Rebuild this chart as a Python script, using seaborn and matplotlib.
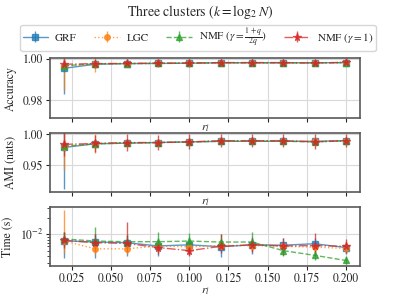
import matplotlib
matplotlib.use("Agg")
import matplotlib.pyplot as plt
import seaborn as sns
import numpy as np

# ratio of labelled points
r_l = [0.02, 0.04, 0.06, 0.08, 0.10, 0.12, 0.14, 0.16, 0.18, 0.20]

methods = ["GRF", "LGC", r"NMF ($\gamma=\frac{1+q}{2q}$)", r"NMF ($\gamma=1$)"]

# accuracy (mean, std)
acc_grf = [0.9955, 0.9975, 0.9978, 0.9979, 0.9980, 0.9982, 0.9982, 0.9982, 0.9982, 0.9983]
acc_lgc = [0.9965, 0.9976, 0.9978, 0.9979, 0.9980, 0.9982, 0.9982, 0.9982, 0.9982, 0.9983]
acc_nmf = [0.9968, 0.9977, 0.9978, 0.9979, 0.9980, 0.9982, 0.9982, 0.9982, 0.9982, 0.9983]
acc_nmf1 = [0.9975, 0.9978, 0.9979, 0.9980, 0.9981, 0.9983, 0.9983, 0.9983, 0.9981, 0.9984]
acc_grf_sd = [0.0125, 0.0010, 0.0008, 0.0008, 0.0007, 0.0007, 0.0006, 0.0006, 0.0006, 0.0006]
acc_lgc_sd = [0.0115, 0.0040, 0.0010, 0.0008, 0.0007, 0.0007, 0.0006, 0.0006, 0.0006, 0.0006]
acc_nmf_sd = [0.0020, 0.0012, 0.0010, 0.0009, 0.0008, 0.0008, 0.0007, 0.0007, 0.0007, 0.0007]
acc_nmf1_sd = [0.0025, 0.0022, 0.0020, 0.0019, 0.0018, 0.0017, 0.0017, 0.0016, 0.0017, 0.0016]

# AMI (nats)
ami_grf = [0.979, 0.985, 0.986, 0.987, 0.988, 0.989, 0.989, 0.989, 0.989, 0.990]
ami_lgc = [0.980, 0.985, 0.986, 0.987, 0.988, 0.989, 0.989, 0.989, 0.989, 0.990]
ami_nmf = [0.981, 0.985, 0.986, 0.987, 0.988, 0.989, 0.989, 0.989, 0.988, 0.990]
ami_nmf1 = [0.984, 0.9855, 0.987, 0.987, 0.988, 0.990, 0.990, 0.990, 0.988, 0.990]
ami_grf_sd = [0.067, 0.006, 0.004, 0.004, 0.003, 0.003, 0.003, 0.003, 0.003, 0.003]
ami_lgc_sd = [0.038, 0.015, 0.005, 0.004, 0.003, 0.003, 0.003, 0.003, 0.003, 0.003]
ami_nmf_sd = [0.008, 0.005, 0.004, 0.004, 0.004, 0.003, 0.003, 0.003, 0.003, 0.003]
ami_nmf1_sd = [0.018, 0.014, 0.013, 0.012, 0.012, 0.011, 0.011, 0.011, 0.012, 0.010]

# time (s): mean, lower and upper ends of the bars
t_grf = [7.6e-3, 7.2e-3, 7.0e-3, 6.1e-3, 6.4e-3, 5.9e-3, 6.4e-3, 6.3e-3, 6.7e-3, 5.7e-3]
t_lgc = [7.5e-3, 5.4e-3, 5.4e-3, 6.1e-3, 5.9e-3, 6.2e-3, 6.2e-3, 6.0e-3, 5.8e-3, 5.5e-3]
t_nmf = [8.2e-3, 7.5e-3, 7.3e-3, 7.3e-3, 7.5e-3, 7.2e-3, 7.2e-3, 5.0e-3, 4.1e-3, 3.3e-3]
t_nmf1 = [7.7e-3, 7.0e-3, 6.8e-3, 5.7e-3, 5.0e-3, 6.0e-3, 6.4e-3, 6.1e-3, 6.2e-3, 6.0e-3]
t_grf_lo = [3.7e-3, 3.6e-3, 4.0e-3, 4.0e-3, 4.2e-3, 3.8e-3, 4.3e-3, 4.3e-3, 4.8e-3, 4.3e-3]
t_grf_hi = [1.1e-2, 1.0e-2, 9.5e-3, 8.5e-3, 8.8e-3, 8.0e-3, 8.8e-3, 8.5e-3, 8.5e-3, 7.2e-3]
t_lgc_lo = [4.5e-3, 4.3e-3, 4.3e-3, 4.8e-3, 4.8e-3, 5.0e-3, 5.0e-3, 5.0e-3, 4.8e-3, 4.6e-3]
t_lgc_hi = [2.8e-2, 7.0e-3, 6.8e-3, 7.5e-3, 7.2e-3, 7.5e-3, 7.5e-3, 7.2e-3, 7.0e-3, 6.6e-3]
t_nmf_lo = [6.0e-3, 5.5e-3, 5.5e-3, 5.5e-3, 5.5e-3, 5.5e-3, 5.5e-3, 4.0e-3, 3.4e-3, 2.8e-3]
t_nmf_hi = [1.1e-2, 1.35e-2, 9.5e-3, 1.08e-2, 1.05e-2, 1.0e-2, 1.1e-2, 6.5e-3, 5.0e-3, 4.0e-3]
t_nmf1_lo = [5.5e-3, 5.0e-3, 4.8e-3, 4.3e-3, 4.0e-3, 4.5e-3, 4.8e-3, 4.1e-3, 4.5e-3, 4.5e-3]
t_nmf1_hi = [1.1e-2, 1.0e-2, 1.7e-2, 8.0e-3, 7.0e-3, 1.03e-2, 8.5e-3, 8.6e-3, 1.05e-2, 8.3e-3]

sns.set_style("whitegrid", {"axes.edgecolor": "0.35", "grid.color": "0.85",
                            "xtick.bottom": True, "ytick.left": True})
plt.rcParams["font.family"] = ["STIXGeneral", "DejaVu Serif"]
plt.rcParams["mathtext.fontset"] = "stix"
plt.rcParams["axes.linewidth"] = 1.2

colors = sns.color_palette("tab10")[:4]
markers = ["s", "o", "^", "*"]
styles = ["-", ":", "--", "-."]

fig, axes = plt.subplots(3, 1, figsize=(4, 3), dpi=100)
plt.subplots_adjust(left=0.125, right=0.9, top=0.805, bottom=0.113, hspace=0.25)

acc = [(acc_grf, acc_grf_sd), (acc_lgc, acc_lgc_sd), (acc_nmf, acc_nmf_sd), (acc_nmf1, acc_nmf1_sd)]
ami = [(ami_grf, ami_grf_sd), (ami_lgc, ami_lgc_sd), (ami_nmf, ami_nmf_sd), (ami_nmf1, ami_nmf1_sd)]
tim = [(t_grf, t_grf_lo, t_grf_hi), (t_lgc, t_lgc_lo, t_lgc_hi),
       (t_nmf, t_nmf_lo, t_nmf_hi), (t_nmf1, t_nmf1_lo, t_nmf1_hi)]

handles = []
for i in range(4):
    kw = dict(color=colors[i], marker=markers[i], ls=styles[i], lw=1.0,
              ms=4 if markers[i] != "*" else 5.5, elinewidth=1.0, alpha=0.75, label=methods[i])
    m, s = acc[i]
    h = axes[0].errorbar(r_l, m, yerr=s, **kw)
    handles.append(h)
    m, s = ami[i]
    axes[1].errorbar(r_l, m, yerr=s, **kw)
    m, lo, hi = tim[i]
    m = np.array(m)
    yerr = [m - np.array(lo), np.array(hi) - m]
    axes[2].errorbar(r_l, m, yerr=yerr, **kw)

axes[0].set_ylim(0.9713, 1.0003)
axes[0].set_yticks([0.98, 1.00])
axes[0].set_ylabel("Accuracy", fontsize=8.5)
axes[1].set_ylim(0.907, 1.003)
axes[1].set_yticks([0.95, 1.00])
axes[1].set_ylabel("AMI (nats)", fontsize=8.5)
axes[2].set_yscale("log")
axes[2].set_ylim(2.6e-3, 3.2e-2)
axes[2].set_ylabel("Time (s)", fontsize=8.5)

for ax in axes:
    ax.set_xlabel(r"$r_l$", fontsize=8.5, labelpad=0)
    ax.tick_params(labelsize=8.5, length=3, width=0.8, pad=2)
    ax.set_xticks([0.025, 0.05, 0.075, 0.1, 0.125, 0.15, 0.175, 0.2])
for ax in axes[:2]:
    ax.tick_params(labelbottom=False)
axes[2].set_xticklabels(["0.025", "0.050", "0.075", "0.100", "0.125", "0.150", "0.175", "0.200"])

fig.suptitle(r"Three clusters ($k=\log_2 N$)", fontsize=10, y=0.99)
fig.legend(handles=handles, loc="upper center", bbox_to_anchor=(0.495, 0.925), ncol=4,
           fontsize=8, handlelength=2.3, columnspacing=1.6, handletextpad=0.6,
           borderpad=0.2, borderaxespad=0.2)

plt.savefig("out.png", dpi=100)
